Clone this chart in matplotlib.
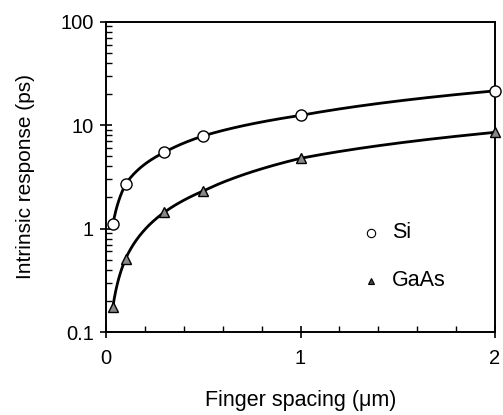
import numpy as np
import matplotlib
matplotlib.use("Agg")
import matplotlib.pyplot as plt
from matplotlib.ticker import FixedLocator, MultipleLocator, LogLocator, FuncFormatter

plt.rcParams['font.family'] = ['Liberation Sans', 'DejaVu Sans']

# finger spacing (um) and intrinsic response (ps)
spacing = [0.035, 0.1, 0.3, 0.5, 1.0, 2.0]
si_resp = [1.1, 2.68, 5.46, 7.86, 12.4, 21.4]
gaas_resp = [0.176, 0.51, 1.44, 2.31, 4.77, 8.5]
labels = ['Si', 'GaAs']


def smooth(x, y):
    # draw the curve through the points, straight in log-log space
    lx = np.log(x)
    xs = np.exp(np.linspace(lx[0], lx[-1], 300))
    ys = np.exp(np.interp(np.log(xs), lx, np.log(y)))
    return xs, ys


fig = plt.figure(figsize=(5.03, 4.15), dpi=100)
ax = fig.add_axes([0.211, 0.200, 0.773, 0.748])

xs, ys = smooth(spacing, si_resp)
ax.plot(xs, ys, color='black', lw=2)
xs, ys = smooth(spacing, gaas_resp)
ax.plot(xs, ys, color='black', lw=2)

ax.plot(spacing, si_resp, 'o', ms=8, mfc='white', mec='black', mew=1.0, zorder=3, clip_on=False)
ax.plot(spacing, gaas_resp, '^', ms=6.5, mfc='#888888', mec='black', mew=1.0, zorder=3, clip_on=False)

ax.set_yscale('log')
ax.set_xlim(0, 2)
ax.set_ylim(0.1, 100)

ax.xaxis.set_major_locator(FixedLocator([0, 1, 2]))
ax.xaxis.set_minor_locator(MultipleLocator(0.2))
ax.yaxis.set_major_locator(LogLocator(base=10))
ax.yaxis.set_minor_locator(LogLocator(base=10, subs=np.arange(2, 10)))
ax.yaxis.set_major_formatter(FuncFormatter(lambda v, p: '%g' % v))
ax.yaxis.set_minor_formatter(FuncFormatter(lambda v, p: ''))

ax.tick_params(which='major', direction='inout', length=8, width=1.2, labelsize=14.5, pad=5)
ax.tick_params(axis='x', which='major', pad=8)
ax.tick_params(which='minor', direction='in', length=4, width=1.0)
ax.tick_params(top=False, right=False, which='both')

for s in ax.spines.values():
    s.set_linewidth(1.4)

ax.set_xlabel('Finger spacing (\u03bcm)', fontsize=15.5, labelpad=16)
ax.set_ylabel('Intrinsic response (ps)', fontsize=15, labelpad=18)

# hand-placed key, as in the original figure
ax.plot([0.68], [0.32], 'o', ms=6, mfc='white', mec='black', mew=0.8, transform=ax.transAxes)
ax.plot([0.68], [0.165], '^', ms=5, mfc='#444444', mec='black', mew=0.8, transform=ax.transAxes)
ax.text(0.735, 0.32, labels[0], transform=ax.transAxes, fontsize=15.5, va='center')
ax.text(0.735, 0.165, labels[1], transform=ax.transAxes, fontsize=15.5, va='center')

fig.savefig('out.png', dpi=100)
